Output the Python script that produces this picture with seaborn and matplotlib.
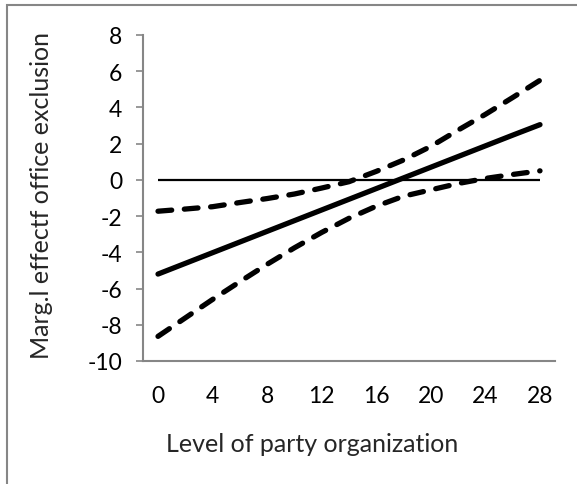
import matplotlib
matplotlib.use("Agg")
import matplotlib.pyplot as plt
from matplotlib.patches import Rectangle
import seaborn as sns
import pandas as pd

# Level of party organization
levels = [0, 2, 4, 6, 8, 10, 12, 14, 16, 18, 20, 22, 24, 26, 28]
# Marginal effect of office exclusion and its confidence bounds
effect = [-5.20, -4.61, -4.02, -3.43, -2.84, -2.25, -1.66, -1.07,
          -0.48, 0.11, 0.70, 1.29, 1.88, 2.47, 3.05]
upper = [-1.73, -1.61, -1.48, -1.25, -1.03, -0.78, -0.45, -0.10,
         0.47, 1.10, 1.85, 2.75, 3.62, 4.55, 5.50]
lower = [-8.64, -7.62, -6.60, -5.62, -4.66, -3.75, -2.90, -2.12,
         -1.45, -0.90, -0.55, -0.20, 0.08, 0.30, 0.50]
baseline = [0.0] * len(levels)

x_ticks = [0, 4, 8, 12, 16, 20, 24, 28]
y_ticks = [-10, -8, -6, -4, -2, 0, 2, 4, 6, 8]

df = pd.DataFrame({"level": levels, "effect": effect, "upper": upper,
                   "lower": lower, "zero": baseline})

sns.set_theme(style="white")
plt.rcParams["font.family"] = ["Lato", "DejaVu Sans"]

W, H = 577, 485
fig = plt.figure(figsize=(W / 100, H / 100), dpi=100)
ax = fig.add_axes([143 / W, 1 - 362 / H, 412 / W, 326 / H])

grey = "#868686"

sns.lineplot(data=df, x="level", y="zero", ax=ax, color="black",
             linewidth=1.6, solid_capstyle="butt")
sns.lineplot(data=df, x="level", y="effect", ax=ax, color="black",
             linewidth=3.8, solid_capstyle="round")
for col in ["upper", "lower"]:
    sns.lineplot(data=df, x="level", y=col, ax=ax, color="black",
                 linewidth=3.8, linestyle=(0, (2.6, 2.4)),
                 dash_capstyle="round")

ax.set_xlim(-1.1, 29.1)
ax.set_ylim(-10, 8)
ax.set_xticks(x_ticks)
ax.set_yticks(y_ticks)
ax.set_xticklabels([str(t) for t in x_ticks])
ax.set_yticklabels([str(t) for t in y_ticks])

for side in ["top", "right"]:
    ax.spines[side].set_visible(False)
for side in ["left", "bottom"]:
    ax.spines[side].set_color(grey)
    ax.spines[side].set_linewidth(1.5)

ax.tick_params(axis="y", direction="out", length=5, width=1.2, color=grey,
               pad=10, labelsize=16.5, labelcolor="black", left=True)
ax.tick_params(axis="x", length=0, pad=17, labelsize=16.5, labelcolor="black")

ax.set_xlabel("Level of party organization", fontsize=18, va="center")
ax.set_ylabel("Marg.l effectf office exclusion", fontsize=18, va="center")
ax.xaxis.set_label_coords(0.41, (362 - 445) / 326)
ax.yaxis.set_label_coords((42 - 143) / 412, 0.51)

# chart-area frame
fig.add_artist(Rectangle((7 / W, -0.2), 1.2, 1.2 - 6 / H,
                         transform=fig.transFigure, fill=False,
                         edgecolor=grey, linewidth=1.5))

fig.savefig("out.png", dpi=100)
